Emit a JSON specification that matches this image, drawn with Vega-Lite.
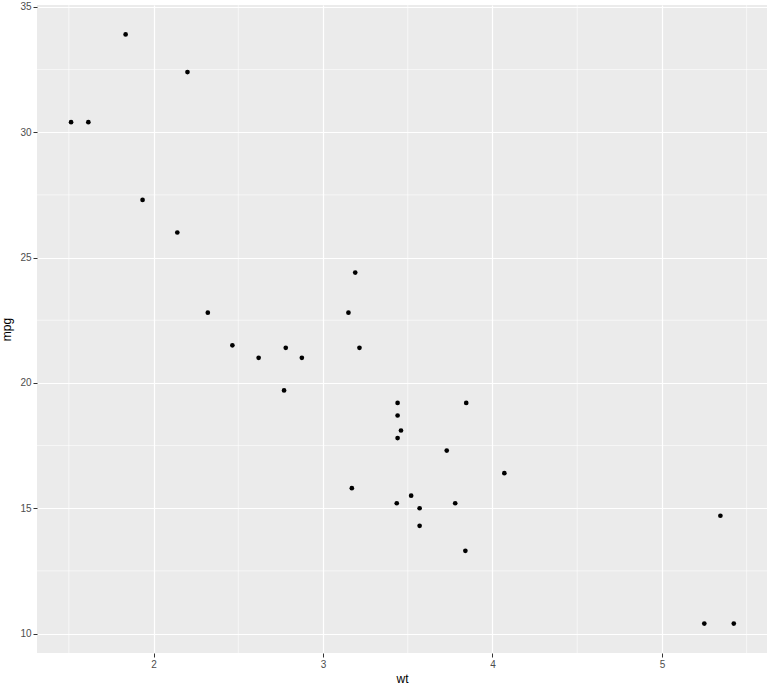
{
  "$schema": "https://vega.github.io/schema/vega-lite/v6.json",
  "width": 730,
  "height": 648,
  "autosize": {"type": "none"},
  "padding": {"left": 37, "top": 5, "right": 6, "bottom": 36},
  "background": "white",
  "config": {
    "view": {"fill": "#EBEBEB", "stroke": null},
    "font": "Liberation Sans"
  },
  "datasets": {
    "cars": [
      {"model": "Mazda RX4", "wt": 2.620, "mpg": 21.0},
      {"model": "Mazda RX4 Wag", "wt": 2.875, "mpg": 21.0},
      {"model": "Datsun 710", "wt": 2.320, "mpg": 22.8},
      {"model": "Hornet 4 Drive", "wt": 3.215, "mpg": 21.4},
      {"model": "Hornet Sportabout", "wt": 3.440, "mpg": 18.7},
      {"model": "Valiant", "wt": 3.460, "mpg": 18.1},
      {"model": "Duster 360", "wt": 3.570, "mpg": 14.3},
      {"model": "Merc 240D", "wt": 3.190, "mpg": 24.4},
      {"model": "Merc 230", "wt": 3.150, "mpg": 22.8},
      {"model": "Merc 280", "wt": 3.440, "mpg": 19.2},
      {"model": "Merc 280C", "wt": 3.440, "mpg": 17.8},
      {"model": "Merc 450SE", "wt": 4.070, "mpg": 16.4},
      {"model": "Merc 450SL", "wt": 3.730, "mpg": 17.3},
      {"model": "Merc 450SLC", "wt": 3.780, "mpg": 15.2},
      {"model": "Cadillac Fleetwood", "wt": 5.250, "mpg": 10.4},
      {"model": "Lincoln Continental", "wt": 5.424, "mpg": 10.4},
      {"model": "Chrysler Imperial", "wt": 5.345, "mpg": 14.7},
      {"model": "Fiat 128", "wt": 2.200, "mpg": 32.4},
      {"model": "Honda Civic", "wt": 1.615, "mpg": 30.4},
      {"model": "Toyota Corolla", "wt": 1.835, "mpg": 33.9},
      {"model": "Toyota Corona", "wt": 2.465, "mpg": 21.5},
      {"model": "Dodge Challenger", "wt": 3.520, "mpg": 15.5},
      {"model": "AMC Javelin", "wt": 3.435, "mpg": 15.2},
      {"model": "Camaro Z28", "wt": 3.840, "mpg": 13.3},
      {"model": "Pontiac Firebird", "wt": 3.845, "mpg": 19.2},
      {"model": "Fiat X1-9", "wt": 1.935, "mpg": 27.3},
      {"model": "Porsche 914-2", "wt": 2.140, "mpg": 26.0},
      {"model": "Lotus Europa", "wt": 1.513, "mpg": 30.4},
      {"model": "Ford Pantera L", "wt": 3.170, "mpg": 15.8},
      {"model": "Ferrari Dino", "wt": 2.770, "mpg": 19.7},
      {"model": "Maserati Bora", "wt": 3.570, "mpg": 15.0},
      {"model": "Volvo 142E", "wt": 2.780, "mpg": 21.4}
    ],
    "minorX": [{"wt": 1.5}, {"wt": 2.5}, {"wt": 3.5}, {"wt": 4.5}, {"wt": 5.5}],
    "minorY": [{"mpg": 12.5}, {"mpg": 17.5}, {"mpg": 22.5}, {"mpg": 27.5}, {"mpg": 32.5}]
  },
  "layer": [
    {
      "data": {"name": "minorX"},
      "mark": {"type": "rule", "color": "white", "strokeWidth": 0.6},
      "encoding": {
        "x": {"field": "wt", "type": "quantitative"}
      }
    },
    {
      "data": {"name": "minorY"},
      "mark": {"type": "rule", "color": "white", "strokeWidth": 0.6},
      "encoding": {
        "y": {"field": "mpg", "type": "quantitative"}
      }
    },
    {
      "data": {"name": "cars"},
      "mark": {"type": "point", "filled": true, "color": "black", "opacity": 1, "size": 22},
      "encoding": {
        "x": {
          "field": "wt", "type": "quantitative",
          "scale": {"domain": [1.312, 5.620], "nice": false, "zero": false},
          "axis": {
            "values": [2, 3, 4, 5], "format": "d", "title": "wt",
            "grid": true, "gridColor": "white", "gridWidth": 1.2,
            "domain": false, "tickColor": "#333333", "tickSize": 4, "tickWidth": 1,
            "labelColor": "#4D4D4D", "labelFontSize": 10, "labelPadding": 2,
            "titleColor": "black", "titleFontSize": 12, "titleFontWeight": "normal", "titlePadding": 4
          }
        },
        "y": {
          "field": "mpg", "type": "quantitative",
          "scale": {"domain": [9.225, 35.075], "nice": false, "zero": false},
          "axis": {
            "values": [10, 15, 20, 25, 30, 35], "format": "d", "title": "mpg",
            "grid": true, "gridColor": "white", "gridWidth": 1.2,
            "domain": false, "tickColor": "#333333", "tickSize": 4, "tickWidth": 1,
            "labelColor": "#4D4D4D", "labelFontSize": 10, "labelPadding": 2,
            "titleColor": "black", "titleFontSize": 12, "titleFontWeight": "normal", "titlePadding": 6
          }
        }
      }
    }
  ]
}
